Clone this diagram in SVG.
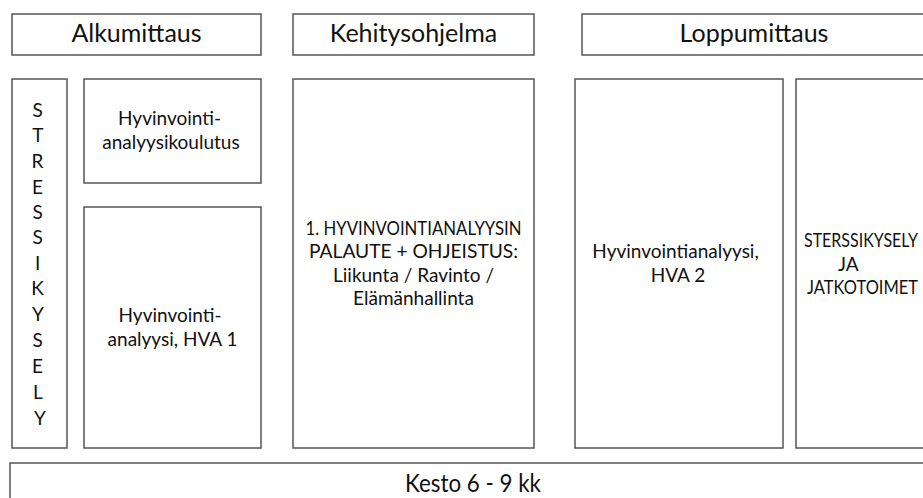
<svg xmlns="http://www.w3.org/2000/svg" width="923" height="498" viewBox="0 0 923 498">
  <style>
    .box { fill: #ffffff; stroke: #555555; stroke-width: 1.5; }
    .hd { font-family: Lato, "Open Sans", "Liberation Sans", sans-serif; font-size: 25px; fill: #111111; text-anchor: middle; }
    .tx { font-family: Lato, "Open Sans", "Liberation Sans", sans-serif; font-size: 19px; fill: #111111; text-anchor: middle; }
    .st { font-family: Lato, "Open Sans", "Liberation Sans", sans-serif; font-size: 19px; fill: #111111; text-anchor: start; }
  </style>
  <rect x="0" y="0" width="923" height="498" fill="#ffffff"/>

  <g id="alkumittaus">
    <rect class="box" x="12" y="14" width="249" height="41"/>
    <text class="hd" x="136.5" y="42">Alkumittaus</text>
  </g>
  <g id="kehitysohjelma">
    <rect class="box" x="293" y="14" width="241" height="41"/>
    <text class="hd" x="413.5" y="42">Kehitysohjelma</text>
  </g>
  <g id="loppumittaus">
    <rect class="box" x="582" y="14" width="360" height="41"/>
    <text class="hd" x="754" y="42">Loppumittaus</text>
  </g>

  <g id="stressikysely">
    <rect class="box" x="12" y="79" width="55" height="369"/>
    <text class="tx" x="40">
      <tspan x="40" y="117">S</tspan>
      <tspan x="40" y="142">T</tspan>
      <tspan x="40" y="167.5">R</tspan>
      <tspan x="40" y="193.5">E</tspan>
      <tspan x="40" y="218.5">S</tspan>
      <tspan x="40" y="244">S</tspan>
      <tspan x="40" y="270">I</tspan>
      <tspan x="40" y="295">K</tspan>
      <tspan x="40" y="321">Y</tspan>
      <tspan x="40" y="347">S</tspan>
      <tspan x="40" y="373">E</tspan>
      <tspan x="40" y="399">L</tspan>
      <tspan x="40" y="425">Y</tspan>
    </text>
  </g>

  <g id="koulutus">
    <rect class="box" x="84" y="79" width="177" height="104"/>
    <text class="tx">
      <tspan x="172" y="125">Hyvinvointi-</tspan>
      <tspan x="171" y="149">analyysikoulutus</tspan>
    </text>
  </g>

  <g id="hva1">
    <rect class="box" x="84" y="207" width="177" height="241"/>
    <text class="tx">
      <tspan x="172.5" y="321.5">Hyvinvointi-</tspan>
      <tspan x="172.5" y="345.5">analyysi, HVA 1</tspan>
    </text>
  </g>

  <g id="palaute">
    <rect class="box" x="293" y="79" width="241" height="369"/>
    <text class="tx" x="413.5" y="234.5" textLength="216" lengthAdjust="spacingAndGlyphs">1. HYVINVOINTIANALYYSIN</text>
    <text class="tx" x="413.5" y="258" textLength="209" lengthAdjust="spacingAndGlyphs">PALAUTE + OHJEISTUS:</text>
    <text class="tx" x="413.5" y="281.5">Liikunta / Ravinto /</text>
    <text class="tx" x="413.5" y="305">Elämänhallinta</text>
  </g>

  <g id="hva2">
    <rect class="box" x="575" y="79" width="208" height="369"/>
    <text class="tx">
      <tspan x="678" y="257.5">Hyvinvointianalyysi,</tspan>
      <tspan x="678" y="281.5">HVA 2</tspan>
    </text>
  </g>

  <g id="jatkotoimet">
    <rect class="box" x="796" y="79" width="160" height="369"/>
    <text class="st" x="804" y="246.5" textLength="114" lengthAdjust="spacingAndGlyphs">STERSSIKYSELY</text>
    <text class="st" x="838" y="270.5">JA</text>
    <text class="st" x="807" y="294" textLength="111" lengthAdjust="spacingAndGlyphs">JATKOTOIMET</text>
  </g>

  <g id="kesto">
    <rect class="box" x="10" y="463" width="940" height="60"/>
    <text class="hd" x="473" y="492" textLength="136" lengthAdjust="spacingAndGlyphs">Kesto 6 - 9 kk</text>
  </g>

  <g id="connectors"></g>
</svg>
